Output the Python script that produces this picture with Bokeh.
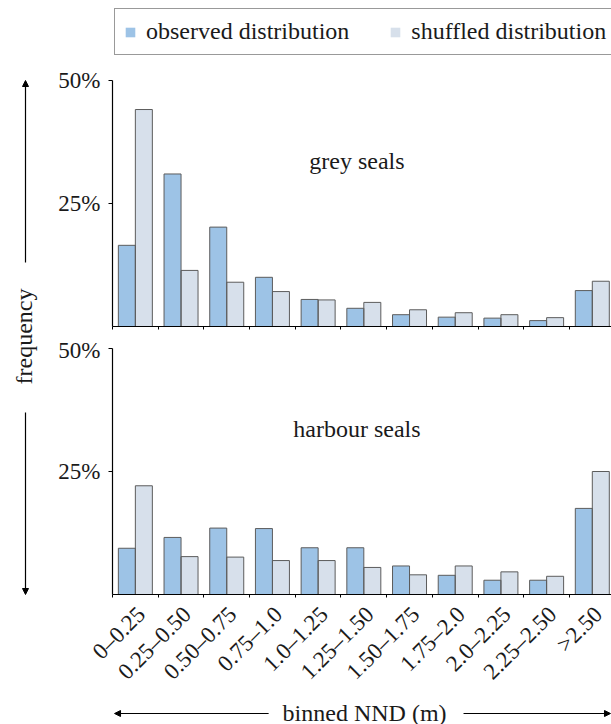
import math
from bokeh.plotting import figure
from bokeh.models import (ColumnDataSource, Range1d, FixedTicker, Legend, LegendItem,
                          Label, Arrow, NormalHead)
from bokeh.layouts import row, column
from bokeh.transform import dodge
from bokeh.embed import file_html
from bokeh.resources import INLINE

# ---------------- data ----------------
bins = ["0\u20130.25", "0.25\u20130.50", "0.50\u20130.75", "0.75\u20131.0", "1.0\u20131.25",
        "1.25\u20131.50", "1.50\u20131.75", "1.75\u20132.0", "2.0\u20132.25", "2.25\u20132.50", ">2.50"]
grey_observed = [16.5, 31.0, 20.2, 10.0, 5.5, 3.7, 2.4, 1.9, 1.7, 1.2, 7.3]
grey_shuffled = [44.1, 11.4, 9.0, 7.1, 5.4, 4.9, 3.4, 2.8, 2.4, 1.8, 9.2]
harbour_observed = [9.4, 11.6, 13.5, 13.4, 9.5, 9.5, 5.8, 3.9, 2.9, 2.9, 17.5]
harbour_shuffled = [22.1, 7.7, 7.6, 6.9, 6.9, 5.5, 4.0, 5.8, 4.6, 3.7, 25.0]
y_ticks = [25, 50]
y_tick_labels = ["25%", "50%"]
series_names = ["observed distribution", "shuffled distribution"]
panel_names = ["grey seals", "harbour seals"]
x_title = "binned NND (m)"
y_title = "frequency"

# ---------------- style ----------------
FONT = "Liberation Serif"
OBS_COLOR = "#9DC3E6"
SHF_COLOR = "#D7E0EB"
EDGE = "#5c5c5c"
TXT = "#1a1a1a"

n = len(bins)
centers = [i + 0.5 for i in range(n)]
label_pos = [i + 0.63 for i in range(n)]   # rotated labels end a little right of centre
bounds = list(range(n + 1))
BAR_W = 0.372
X_END = n - 0.08
Y_MAX = 50
PANEL_PX = 246          # pixels for 0..50 %
COL_W = 566
LEFT_B = 67
TOP_H, TOP_BT, TOP_BB = 337, 4, 11
BOT_H, BOT_BT, BOT_BB = 361, 11, 104


def panel(obs, shf, title, h, b_top, b_bottom, labelled, with_legend):
    src = ColumnDataSource(dict(x=centers, obs=obs, shf=shf))
    frame_h = h - b_top - b_bottom
    y_end = Y_MAX * frame_h / PANEL_PX
    p = figure(width=COL_W, height=h, x_range=Range1d(0, X_END), y_range=Range1d(0, y_end),
               output_backend="svg", toolbar_location=None,
               min_border_left=LEFT_B, min_border_right=0,
               min_border_top=b_top, min_border_bottom=b_bottom)
    p.outline_line_color = None
    p.grid.visible = False
    p.background_fill_color = "white"
    r_obs = p.vbar(x=dodge("x", -BAR_W / 2), top="obs", width=BAR_W, source=src,
                   fill_color=OBS_COLOR, line_color=None)
    r_shf = p.vbar(x=dodge("x", BAR_W / 2), top="shf", width=BAR_W, source=src,
                   fill_color=SHF_COLOR, line_color=None)
    p.vbar(x=dodge("x", -BAR_W / 2), top="obs", width=BAR_W, source=src,
           fill_color=None, line_color=EDGE, line_width=1)
    p.vbar(x=dodge("x", BAR_W / 2), top="shf", width=BAR_W, source=src,
           fill_color=None, line_color=EDGE, line_width=1)

    xa = p.xaxis[0]
    xa.ticker = FixedTicker(ticks=label_pos, minor_ticks=bounds)
    xa.axis_line_color = "black"
    xa.axis_line_width = 1.2
    xa.major_tick_line_color = None
    xa.major_tick_in = 0
    xa.major_tick_out = 0
    xa.minor_tick_in = 0
    xa.minor_tick_out = 3
    xa.minor_tick_line_color = "black"
    xa.major_label_text_font = FONT
    xa.major_label_text_color = TXT
    if labelled:
        xa.major_label_overrides = {c: b for c, b in zip(label_pos, bins)}
        xa.major_label_orientation = math.pi / 4
        xa.major_label_text_font_size = "23px"
        xa.major_label_standoff = 13
    else:
        xa.major_label_overrides = {c: "" for c in label_pos}
        xa.major_label_text_font_size = "0px"
        xa.major_label_standoff = 0

    ya = p.yaxis[0]
    ya.ticker = FixedTicker(ticks=y_ticks)
    ya.major_label_overrides = dict(zip(y_ticks, y_tick_labels))
    ya.bounds = (0, Y_MAX)
    ya.axis_line_color = "black"
    ya.axis_line_width = 1.2
    ya.minor_tick_line_color = None
    ya.major_tick_in = 0
    ya.major_tick_out = 4
    ya.major_tick_line_color = "black"
    ya.major_label_standoff = 8
    ya.major_label_text_font = FONT
    ya.major_label_text_font_size = "23px"
    ya.major_label_text_color = TXT

    p.add_layout(Label(x=5.35, y=33.7, text=title, text_align="center", text_baseline="middle",
                       text_font=FONT, text_font_size="24px", text_color=TXT))

    if with_legend:
        legend = Legend(items=[LegendItem(label=series_names[0], renderers=[r_obs]),
                               LegendItem(label=series_names[1], renderers=[r_shf])],
                        orientation="horizontal", location=(2, frame_h - b_top - 47),
                        label_text_font=FONT, label_text_font_size="24px", label_text_color=TXT,
                        glyph_width=12, glyph_height=12, label_standoff=10, spacing=40,
                        padding=9, margin=0, border_line_color="#333333", border_line_width=1,
                        background_fill_color="white", background_fill_alpha=1.0)
        p.add_layout(legend)
    return p


top = panel(grey_observed, grey_shuffled, panel_names[0], TOP_H, TOP_BT, TOP_BB, False, True)
bottom = panel(harbour_observed, harbour_shuffled, panel_names[1], BOT_H, BOT_BT, BOT_BB, True, False)

# left strip with the shared y title and its arrows (coordinates in page pixels)
left = figure(width=45, height=724, x_range=Range1d(0, 45), y_range=Range1d(724, 0),
              output_backend="svg", toolbar_location=None, min_border=0,
              x_axis_location=None, y_axis_location=None)
left.outline_line_color = None
left.grid.visible = False
left.add_layout(Label(x=23, y=336, text=y_title, angle=math.pi / 2, text_align="center",
                      text_baseline="middle", text_font=FONT, text_font_size="24px", text_color=TXT))
left.add_layout(Arrow(x_start=25, y_start=262, x_end=25, y_end=80, line_width=1.2, line_color="black",
                      end=NormalHead(size=6, fill_color="black", line_color="black")))
left.add_layout(Arrow(x_start=25, y_start=412, x_end=25, y_end=594, line_width=1.2, line_color="black",
                      end=NormalHead(size=6, fill_color="black", line_color="black")))

# bottom strip with the x title and its arrows (coordinates in page pixels)
strip = figure(width=COL_W, height=26, x_range=Range1d(112, 601), y_range=Range1d(724, 698),
               output_backend="svg", toolbar_location=None, min_border=0,
               min_border_left=LEFT_B, min_border_right=0,
               x_axis_location=None, y_axis_location=None)
strip.outline_line_color = None
strip.grid.visible = False
strip.add_layout(Label(x=359, y=712, text=x_title, text_align="center", text_baseline="middle",
                       text_font=FONT, text_font_size="24px", text_color=TXT))
strip.add_layout(Arrow(x_start=265, y_start=713, x_end=114, y_end=713, line_width=1.2, line_color="black",
                       end=NormalHead(size=6, fill_color="black", line_color="black")))
strip.add_layout(Arrow(x_start=456, y_start=713, x_end=600, y_end=713, line_width=1.2, line_color="black",
                       end=NormalHead(size=6, fill_color="black", line_color="black")))

layout = row(left, column(top, bottom, strip))
open("out.html", "w").write(file_html(layout, INLINE))
